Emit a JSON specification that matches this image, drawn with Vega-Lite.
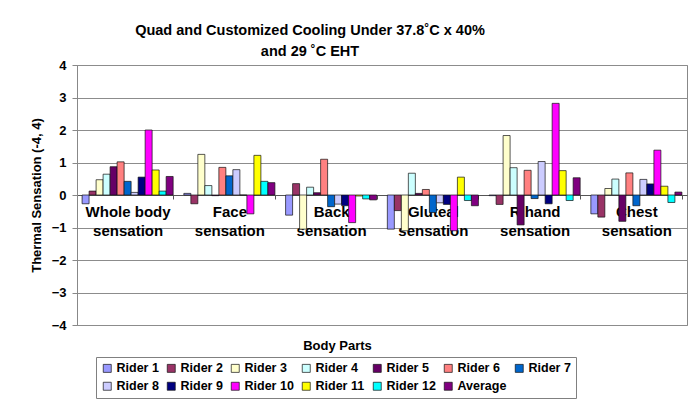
{
  "$schema": "https://vega.github.io/schema/vega-lite/v6.json",
  "width": 610,
  "height": 260,
  "autosize": {"type": "none"},
  "padding": {"left": 77, "top": 65, "right": 4, "bottom": 79},
  "background": "white",
  "title": {
    "text": ["Quad and Customized Cooling Under 37.8˚C x 40%", "and 29 ˚C EHT"],
    "fontSize": 14.5,
    "fontWeight": "bold",
    "font": "Liberation Sans",
    "color": "#000",
    "anchor": "middle",
    "frame": "group",
    "dx": -72,
    "dy": 5,
    "offset": 5,
    "lineHeight": 21
  },
  "data": {
    "values": [
      {"part": "Whole body sensation", "rider": "Rider 1", "value": -0.27},
      {"part": "Whole body sensation", "rider": "Rider 2", "value": 0.12},
      {"part": "Whole body sensation", "rider": "Rider 3", "value": 0.47},
      {"part": "Whole body sensation", "rider": "Rider 4", "value": 0.64},
      {"part": "Whole body sensation", "rider": "Rider 5", "value": 0.87},
      {"part": "Whole body sensation", "rider": "Rider 6", "value": 1.02},
      {"part": "Whole body sensation", "rider": "Rider 7", "value": 0.42},
      {"part": "Whole body sensation", "rider": "Rider 8", "value": 0.08},
      {"part": "Whole body sensation", "rider": "Rider 9", "value": 0.55},
      {"part": "Whole body sensation", "rider": "Rider 10", "value": 2.0},
      {"part": "Whole body sensation", "rider": "Rider 11", "value": 0.77},
      {"part": "Whole body sensation", "rider": "Rider 12", "value": 0.12},
      {"part": "Whole body sensation", "rider": "Average", "value": 0.57},
      {"part": "Face sensation", "rider": "Rider 1", "value": 0.05},
      {"part": "Face sensation", "rider": "Rider 2", "value": -0.27},
      {"part": "Face sensation", "rider": "Rider 3", "value": 1.25},
      {"part": "Face sensation", "rider": "Rider 4", "value": 0.29},
      {"part": "Face sensation", "rider": "Rider 5", "value": -0.02},
      {"part": "Face sensation", "rider": "Rider 6", "value": 0.85},
      {"part": "Face sensation", "rider": "Rider 7", "value": 0.59},
      {"part": "Face sensation", "rider": "Rider 8", "value": 0.78},
      {"part": "Face sensation", "rider": "Rider 9", "value": 0.0},
      {"part": "Face sensation", "rider": "Rider 10", "value": -0.58},
      {"part": "Face sensation", "rider": "Rider 11", "value": 1.22},
      {"part": "Face sensation", "rider": "Rider 12", "value": 0.42},
      {"part": "Face sensation", "rider": "Average", "value": 0.38},
      {"part": "Back sensation", "rider": "Rider 1", "value": -0.62},
      {"part": "Back sensation", "rider": "Rider 2", "value": 0.35},
      {"part": "Back sensation", "rider": "Rider 3", "value": -1.05},
      {"part": "Back sensation", "rider": "Rider 4", "value": 0.24},
      {"part": "Back sensation", "rider": "Rider 5", "value": 0.07},
      {"part": "Back sensation", "rider": "Rider 6", "value": 1.1},
      {"part": "Back sensation", "rider": "Rider 7", "value": -0.36},
      {"part": "Back sensation", "rider": "Rider 8", "value": -0.28},
      {"part": "Back sensation", "rider": "Rider 9", "value": -0.33},
      {"part": "Back sensation", "rider": "Rider 10", "value": -0.85},
      {"part": "Back sensation", "rider": "Rider 11", "value": -0.03},
      {"part": "Back sensation", "rider": "Rider 12", "value": -0.12},
      {"part": "Back sensation", "rider": "Average", "value": -0.15},
      {"part": "Gluteal sensation", "rider": "Rider 1", "value": -1.05},
      {"part": "Gluteal sensation", "rider": "Rider 2", "value": -0.48},
      {"part": "Gluteal sensation", "rider": "Rider 3", "value": -1.1},
      {"part": "Gluteal sensation", "rider": "Rider 4", "value": 0.67},
      {"part": "Gluteal sensation", "rider": "Rider 5", "value": 0.05},
      {"part": "Gluteal sensation", "rider": "Rider 6", "value": 0.17},
      {"part": "Gluteal sensation", "rider": "Rider 7", "value": -0.54},
      {"part": "Gluteal sensation", "rider": "Rider 8", "value": -0.24},
      {"part": "Gluteal sensation", "rider": "Rider 9", "value": -0.29},
      {"part": "Gluteal sensation", "rider": "Rider 10", "value": -1.1},
      {"part": "Gluteal sensation", "rider": "Rider 11", "value": 0.55},
      {"part": "Gluteal sensation", "rider": "Rider 12", "value": -0.17},
      {"part": "Gluteal sensation", "rider": "Average", "value": -0.33},
      {"part": "R hand sensation", "rider": "Rider 1", "value": -0.02},
      {"part": "R hand sensation", "rider": "Rider 2", "value": -0.29},
      {"part": "R hand sensation", "rider": "Rider 3", "value": 1.83},
      {"part": "R hand sensation", "rider": "Rider 4", "value": 0.84},
      {"part": "R hand sensation", "rider": "Rider 5", "value": -0.92},
      {"part": "R hand sensation", "rider": "Rider 6", "value": 0.76},
      {"part": "R hand sensation", "rider": "Rider 7", "value": -0.11},
      {"part": "R hand sensation", "rider": "Rider 8", "value": 1.03},
      {"part": "R hand sensation", "rider": "Rider 9", "value": -0.27},
      {"part": "R hand sensation", "rider": "Rider 10", "value": 2.82},
      {"part": "R hand sensation", "rider": "Rider 11", "value": 0.75},
      {"part": "R hand sensation", "rider": "Rider 12", "value": -0.17},
      {"part": "R hand sensation", "rider": "Average", "value": 0.53},
      {"part": "Chest sensation", "rider": "Rider 1", "value": -0.58},
      {"part": "Chest sensation", "rider": "Rider 2", "value": -0.68},
      {"part": "Chest sensation", "rider": "Rider 3", "value": 0.2},
      {"part": "Chest sensation", "rider": "Rider 4", "value": 0.49},
      {"part": "Chest sensation", "rider": "Rider 5", "value": -0.81},
      {"part": "Chest sensation", "rider": "Rider 6", "value": 0.68},
      {"part": "Chest sensation", "rider": "Rider 7", "value": -0.33},
      {"part": "Chest sensation", "rider": "Rider 8", "value": 0.48},
      {"part": "Chest sensation", "rider": "Rider 9", "value": 0.34},
      {"part": "Chest sensation", "rider": "Rider 10", "value": 1.38},
      {"part": "Chest sensation", "rider": "Rider 11", "value": 0.27},
      {"part": "Chest sensation", "rider": "Rider 12", "value": -0.23},
      {"part": "Chest sensation", "rider": "Average", "value": 0.09}
    ]
  },
  "mark": {"type": "bar", "stroke": "#111", "strokeWidth": 0.7},
  "encoding": {
    "x": {
      "field": "part",
      "type": "nominal",
      "sort": ["Whole body sensation", "Face sensation", "Back sensation", "Gluteal sensation", "R hand sensation", "Chest sensation"],
      "scale": {"paddingInner": 0.105, "paddingOuter": 0.05},
      "axis": {
        "orient": "bottom",
        "offset": -130,
        "labelAngle": 0,
        "labelExpr": "split(replace(datum.label, ' sensation', '|sensation'), '|')",
        "labelFontSize": 15,
        "labelLineHeight": 19,
        "labelPadding": 5,
        "labelBaseline": "top",
        "domainColor": "#555",
        "tickColor": "#555",
        "tickBand": "extent",
        "tickSize": 4,
        "title": "Body Parts",
        "titleX": 260,
        "titleY": 150,
        "titleAlign": "center",
        "titleBaseline": "middle",
        "titleFontSize": 13
      }
    },
    "xOffset": {
      "field": "rider",
      "type": "nominal",
      "scale": {"paddingInner": 0, "paddingOuter": 0, "domain": ["Rider 1", "Rider 2", "Rider 3", "Rider 4", "Rider 5", "Rider 6", "Rider 7", "Rider 8", "Rider 9", "Rider 10", "Rider 11", "Rider 12", "Average"]}
    },
    "y": {
      "field": "value",
      "type": "quantitative",
      "scale": {"domain": [-4, 4], "nice": false},
      "axis": {
        "values": [-4, -3, -2, -1, 0, 1, 2, 3, 4],
        "title": "Thermal Sensation (-4, 4)",
        "titleFontSize": 13,
        "titlePadding": 8,
        "labelFontSize": 13,
        "labelPadding": 6,
        "tickSize": 5,
        "tickColor": "#888",
        "domainColor": "#888",
        "gridColor": "#8c8c8c"
      }
    },
    "color": {
      "field": "rider",
      "type": "nominal",
      "scale": {
        "domain": ["Rider 1", "Rider 2", "Rider 3", "Rider 4", "Rider 5", "Rider 6", "Rider 7", "Rider 8", "Rider 9", "Rider 10", "Rider 11", "Rider 12", "Average"],
        "range": ["#9999FF", "#993366", "#FFFFCC", "#CCFFFF", "#660066", "#FF8080", "#0066CC", "#CCCCFF", "#000080", "#FF00FF", "#FFFF00", "#00FFFF", "#800080"]
      },
      "legend": {
        "orient": "none",
        "legendX": 19,
        "legendY": 292,
        "direction": "horizontal",
        "columns": 7,
        "title": null,
        "labelFontSize": 12.5,
        "labelFontWeight": "bold",
        "labelColor": "#000",
        "symbolType": "square",
        "symbolSize": 64,
        "symbolStrokeColor": "#111",
        "symbolStrokeWidth": 0.7,
        "strokeColor": "#808080",
        "fillColor": "white",
        "padding": 5,
        "rowPadding": 5,
        "columnPadding": 6,
        "labelOffset": 3
      }
    }
  },
  "config": {
    "font": "Liberation Sans",
    "view": {"stroke": "#888"},
    "axis": {
      "labelFontWeight": "bold",
      "titleFontWeight": "bold",
      "labelColor": "#000",
      "titleColor": "#000",
      "grid": false
    },
    "axisY": {"grid": true}
  }
}
